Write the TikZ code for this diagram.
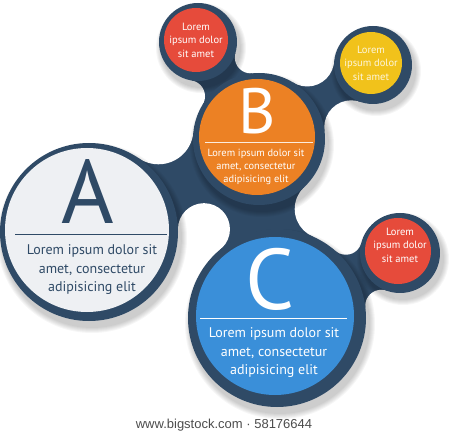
\documentclass[tikz,border=0pt]{standalone}
\usepackage{fontspec}
\setmainfont{PT Sans}
\newfontfamily\wmfont{Liberation Sans}
\usetikzlibrary{calc}

\definecolor{navy}{HTML}{2F4A66}
\definecolor{paleA}{HTML}{EEF0F3}
\definecolor{orangeB}{HTML}{EC8124}
\definecolor{redS}{HTML}{E64B3B}
\definecolor{yellowS}{HTML}{F1C21B}
\definecolor{blueC}{HTML}{3A8FD9}

\tikzset{
  letter/.style={anchor=base, inner sep=0pt},
  body/.style={align=center, inner sep=0pt, font=\fontsize{14}{18.5}\selectfont},
  bodyB/.style={align=center, inner sep=0pt, text=white, font=\fontsize{10.4}{13}\selectfont},
  small/.style={align=center, inner sep=0pt, text=white, font=\fontsize{10.5}{13.5}\selectfont},
}

% centre of a carving circle (radius #5) touching ring #1 (radius #3) and ring #2 (radius #4)
\newcommand{\fillet}[5]{%
  \path let \p1 = ($(#2)-(#1)$),
            \n1 = {scalar(veclen(\x1,\y1))/100},
            \n2 = {(#3+#5)/100},
            \n3 = {(#4+#5)/100},
            \n4 = {acos((\n1*\n1+\n2*\n2-\n3*\n3)/(2*\n1*\n2))}
        in ($(#1)!{#3pt+#5pt}!\n4:(#2)$) coordinate (#1#2l)
           ($(#1)!{#3pt+#5pt}!-\n4:(#2)$) coordinate (#1#2r);%
}

\begin{document}
\begin{tikzpicture}[x=1pt, y=1pt]
\useasboundingbox (0,0) rectangle (450,437);

% dark rings
\coordinate (dA) at (89,205);
\coordinate (dB) at (259,298);
\coordinate (dC) at (277,119);
\coordinate (dR) at (198,395);
\coordinate (dY) at (373,372);
\coordinate (dS) at (400,184);

\fillet{dA}{dB}{89}{66}{35}
\fillet{dB}{dC}{66}{89}{30}
\fillet{dA}{dC}{89}{89}{26}
\fillet{dB}{dR}{66}{39}{16}
\fillet{dB}{dY}{66}{39}{27}
\fillet{dC}{dS}{89}{40}{16}

% necks
\fill[navy] (dA) -- (dAdBl) -- (dB) -- (dBdCl) -- (dC) -- (dAdCl) -- cycle;
\fill[navy] (dB) -- (dBdRl) -- (dR) -- (dBdRr) -- cycle;
\fill[navy] (dB) -- (dBdYl) -- (dY) -- (dBdYr) -- cycle;
\fill[navy] (dC) -- (dCdSl) -- (dS) -- (dCdSr) -- cycle;
\foreach \cc/\rr in {dAdBl/35, dBdCl/30, dAdCl/26, dBdRl/16, dBdRr/16,
                     dBdYl/27, dBdYr/27, dCdSl/16, dCdSr/16}
  \fill[white] (\cc) circle (\rr pt);

% soft shadows
\foreach \cc/\rr in {dA/89, dB/66, dC/89, dR/39, dY/39, dS/40}
  \foreach \k in {1,...,6}
    \fill[black, opacity=0.035] ($(\cc)+(3,-6)$) circle ({\rr pt+\k pt});

\foreach \cc/\rr in {dA/89, dB/66, dC/89, dR/39, dY/39, dS/40}
  \fill[navy] (\cc) circle (\rr pt);

% faces
\coordinate (A) at (87,207);
\coordinate (B) at (257,300);
\coordinate (C) at (275,121);
\coordinate (R) at (196,397);
\coordinate (Y) at (371,374);
\coordinate (S) at (398,186);
\fill[paleA] (A) circle (82pt);
\fill[orangeB] (B) circle (58pt);
\fill[blueC] (C) circle (79pt);
\fill[redS] (R) circle (32pt);
\fill[yellowS] (Y) circle (31pt);
\fill[redS] (S) circle (33pt);

% A
\node[letter, text=navy, font=\fontsize{90}{90}\selectfont] (lA) at ($(A)+(1,6)$) {A};
\draw[navy, line width=0.8pt] ($(A)+(-72,-4)$) -- ($(A)+(80,-4)$);
\node[body, text=navy] (tA) at ($(A)+(5,-40)$) {Lorem ipsum dolor sit\\amet, consectetur\\adipisicing elit};

% B
\node[letter, text=white, font=\fontsize{64}{64}\selectfont] (lB) at ($(B)+(0,3)$) {B};
\draw[white!85!orangeB, line width=0.6pt] ($(B)+(-52,-5)$) -- ($(B)+(56,-5)$);
\node[bodyB] (tB) at ($(B)+(-1,-30)$) {Lorem ipsum dolor sit\\amet, consectetur\\adipisicing elit};

% C
\node[letter, text=white, font=\fontsize{86}{86}\selectfont] (lC) at ($(C)+(-5,7)$) {C};
\draw[white, line width=0.7pt] ($(C)+(-75,-2)$) -- ($(C)+(72,-2)$);
\node[body, text=white] (tC) at ($(C)+(-1,-37)$) {Lorem ipsum dolor sit\\amet, consectetur\\adipisicing elit};

% small ones
\node[small] (tR) at (R) {Lorem\\ipsum dolor\\sit amet};
\node[small, text opacity=0.85] (tY) at (Y) {Lorem\\ipsum dolor\\sit amet};
\node[small] (tS) at ($(S)+(2,6)$) {Lorem\\ipsum dolor\\sit amet};

\node[text=black!70, font=\wmfont\fontsize{13}{13}\selectfont] (wm) at (224,12) {www.bigstock.com · 58176644};
\end{tikzpicture}
\end{document}
